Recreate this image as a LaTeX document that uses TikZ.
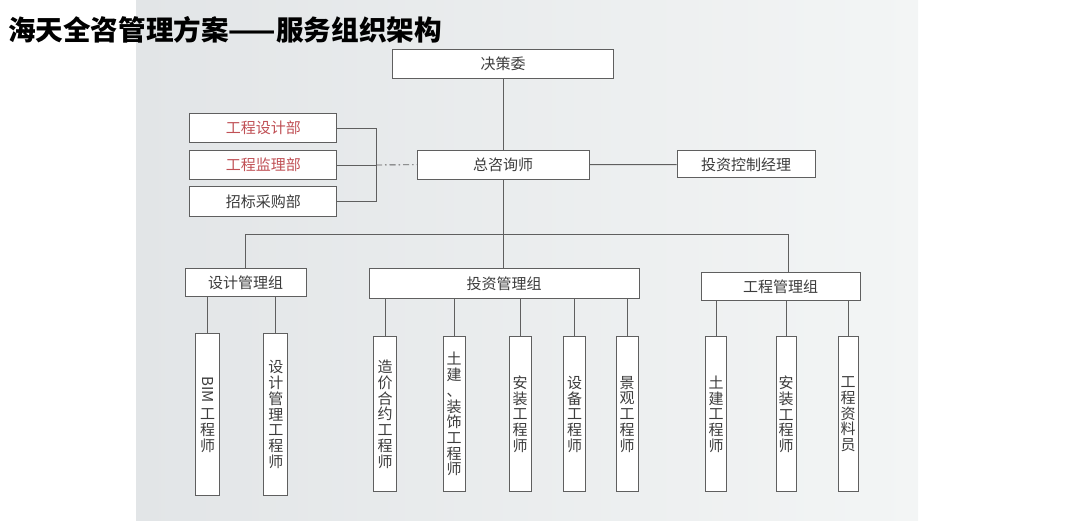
\documentclass[tikz,border=0pt]{standalone}
\usepackage{fontspec}
\newfontfamily\cjk{Noto Sans CJK SC}
\usetikzlibrary{positioning}

\definecolor{linegray}{RGB}{95,95,95}
\definecolor{txtgray}{RGB}{60,60,60}
\definecolor{deptred}{RGB}{192,80,85}
\definecolor{bgleft}{RGB}{226,229,231}
\definecolor{bgmid}{RGB}{204,211,214}
\definecolor{bgright}{RGB}{243,245,245}

\tikzset{
  box/.style={draw=linegray, fill=white, line width=1pt, inner sep=0pt,
    font=\cjk\fontsize{15}{15.7}\selectfont, text=txtgray},
  vbox/.style={box, minimum width=22pt, align=center},
  link/.style={linegray, line width=0.9pt},
}

\begin{document}
\begin{tikzpicture}[x=1pt, y=-1pt]

\useasboundingbox (0,0) rectangle (1080,521);
\shade[left color=bgleft, middle color=bgmid, right color=bgright] (136,0) rectangle (918,521);

\node[anchor=west, inner sep=0pt, font=\cjk\bfseries\fontsize{27.6}{27.6}\selectfont] (title) at (8,30) {海天全咨管理方案——服务组织架构};

% top of the tree
\node[box, minimum width=221pt, minimum height=29pt] (jcw) at (503,63.7) {决策委};
\node[box, minimum width=172pt, minimum height=29pt] (zzx) at (503,164.7) {总咨询师};
\node[box, minimum width=138pt, minimum height=27pt] (tzkz) at (746,164.5) {投资控制经理};
\draw[link] (jcw) -- (zzx);
\draw[link] (zzx) -- (tzkz);

% departments on the left
\foreach \n/\y/\t/\c in {gcsj/128/工程设计部/deptred,
                         gcjl/165/工程监理部/deptred,
                         zbcg/201.5/招标采购部/txtgray} {
  \node[box, text=\c, minimum width=147pt, minimum height=29.5pt] (\n) at (263.3,\y) {\t};
}
\coordinate (brk) at (376,165);
\draw[link] (gcsj.east) -- (gcsj.east -| brk) -- (zbcg.east -| brk) -- (zbcg.east);
\draw[link] (gcjl.east) -- (gcjl.east -| brk);
\draw[link, dash pattern=on 6pt off 3pt on 1.5pt off 3pt] (gcjl.east -| brk) -- (zzx.west);

% groups
\node[box, minimum width=121pt, minimum height=28pt] (sjgl) at (245.5,283) {设计管理组};
\node[box, minimum width=270pt, minimum height=30pt] (tzgl) at (504,284) {投资管理组};
\node[box, minimum width=159pt, minimum height=28pt] (gcgl) at (780.5,287) {工程管理组};

\coordinate (busl) at (245.5,234.7);
\coordinate (busr) at (788,234.7);
\draw[link] (sjgl.north) -- (busl) -- (busr) -- (busr |- gcgl.north);
\draw[link] (zzx.south) -- (zzx.south |- tzgl.north);

% engineers
\foreach \n/\x/\w/\t in {bim/207.7/24/{\rotatebox{-90}{BIM}\\[5pt]工\\程\\师},
                         sjgc/275.8/24/{设\\计\\管\\理\\工\\程\\师}} {
  \node[vbox, minimum width=\w pt, minimum height=161pt] (\n) at (\x,414.5) {\t};
  \draw[link] (sjgl.south -| \n.north) -- (\n.north);
}
\foreach \n/\x/\w/\t in {zjhy/385.2/23/{造\\价\\合\\约\\工\\程\\师},
                         tjzs/454/22/{土\\建\\、\\装\\饰\\工\\程\\师},
                         azgc/520/22/{安\\装\\工\\程\\师},
                         sbgc/574.7/22/{设\\备\\工\\程\\师},
                         jggc/627/22/{景\\观\\工\\程\\师}} {
  \node[vbox, minimum width=\w pt, minimum height=155pt] (\n) at (\x,414.2) {\t};
  \draw[link] (tzgl.south -| \n.north) -- (\n.north);
}
\foreach \n/\x/\w/\t in {tjgc/716.2/21/{土\\建\\工\\程\\师},
                         azgc2/786/20/{安\\装\\工\\程\\师},
                         gczl/848/20/{工\\程\\资\\料\\员}} {
  \node[vbox, minimum width=\w pt, minimum height=155pt] (\n) at (\x,414.3) {\t};
  \draw[link] (gcgl.south -| \n.north) -- (\n.north);
}

\end{tikzpicture}
\end{document}
